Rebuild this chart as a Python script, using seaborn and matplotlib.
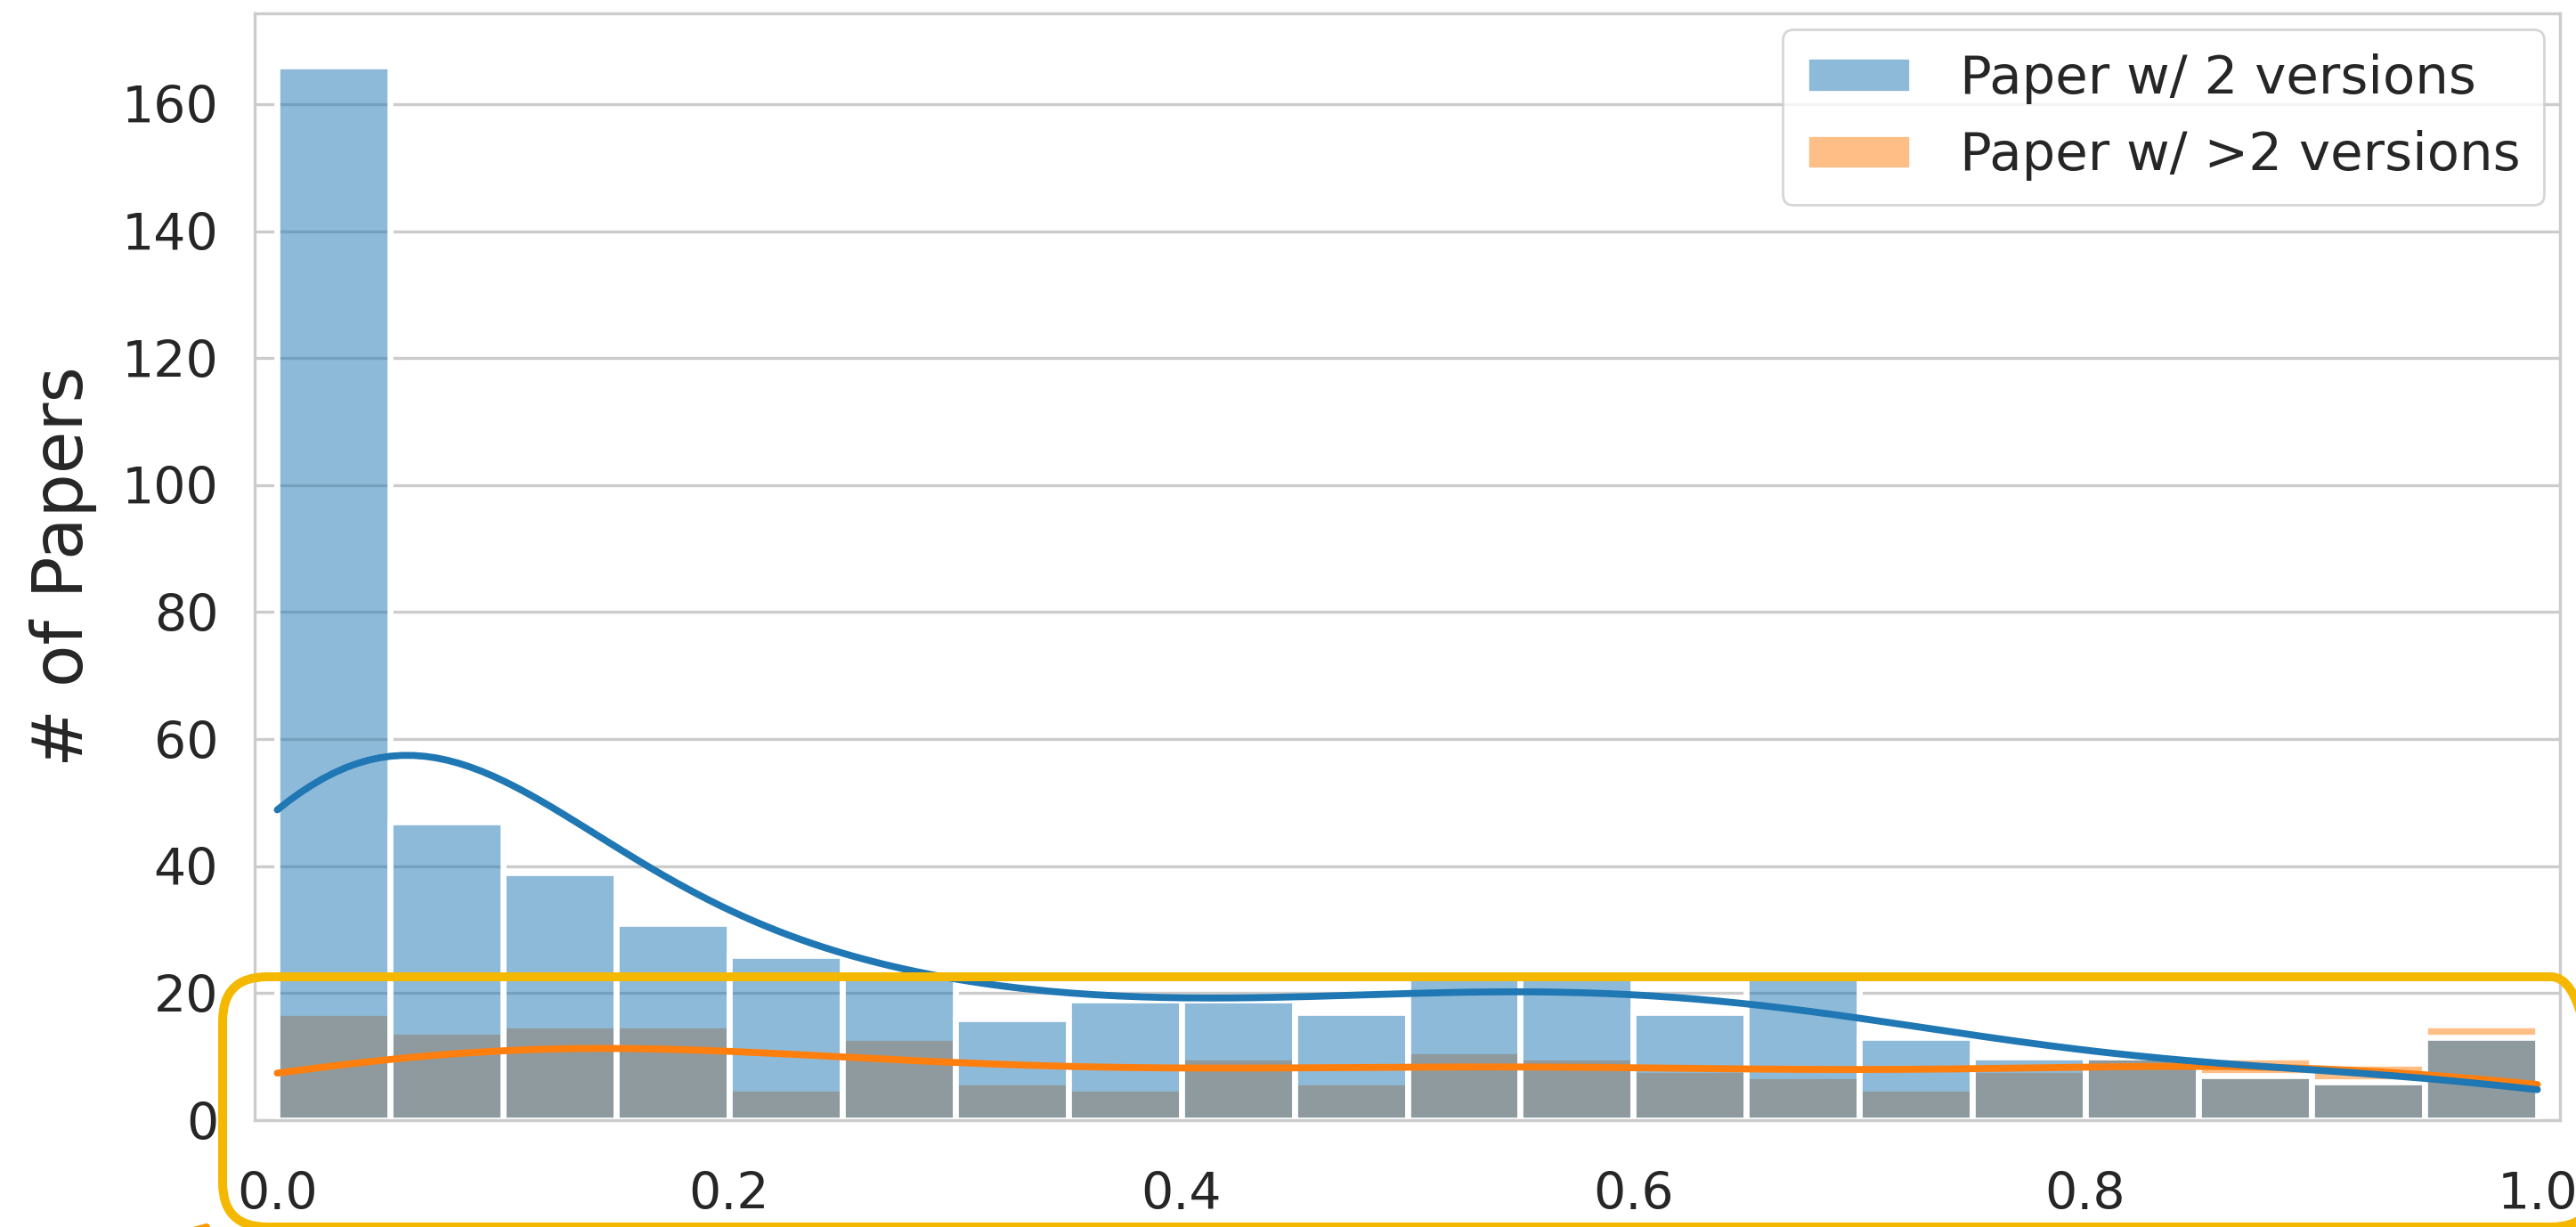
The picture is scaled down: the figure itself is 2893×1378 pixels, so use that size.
import matplotlib
matplotlib.use("Agg")
import matplotlib.pyplot as plt
from matplotlib.patches import FancyBboxPatch
from matplotlib.transforms import IdentityTransform
from matplotlib.ticker import MultipleLocator
import seaborn as sns

# histogram bins (20 bins over 0..1), counts
bin_centers = [0.025, 0.075, 0.125, 0.175, 0.225, 0.275, 0.325, 0.375, 0.425, 0.475,
               0.525, 0.575, 0.625, 0.675, 0.725, 0.775, 0.825, 0.875, 0.925, 0.975]
two_versions = [166, 47, 39, 31, 26, 23, 16, 19, 19, 17, 23, 23, 17, 23, 13, 10, 10, 7, 6, 13]
more_versions = [17, 14, 15, 15, 5, 13, 6, 5, 10, 6, 11, 10, 8, 7, 5, 8, 10, 10, 9, 15]
labels = ["Paper w/ 2 versions", "Paper w/ >2 versions"]
colors = ["tab:blue", "tab:orange"]

sns.set_theme(style="whitegrid")
plt.rcParams["axes.edgecolor"] = ".8"
plt.rcParams["axes.linewidth"] = 1.2
plt.rcParams["grid.linewidth"] = 1.2
plt.rcParams["grid.color"] = ".8"

W, H, DPI = 2893, 1378, 200
fig, ax = plt.subplots(figsize=(W / DPI, H / DPI), dpi=DPI)
fig.subplots_adjust(left=286 / W, right=2875 / W, bottom=(H - 1258) / H, top=(H - 15) / H)


def draw_group(counts, color, label, n, z):
    # scott factor of the raw sample size, since only binned counts are known
    sns.histplot(x=bin_centers, weights=counts, bins=20, binrange=(0, 1),
                 kde=True, kde_kws=dict(bw_method=n ** -0.2, cut=3, clip=(0, 1)),
                 line_kws=dict(linewidth=2.8, zorder=z), color=color, alpha=0.5,
                 edgecolor="white", linewidth=2.4, label=label, ax=ax)


# orange layer first so the blue layer sits on top (as seaborn's hue layering does)
draw_group(more_versions, colors[1], labels[1], sum(more_versions), 3)
draw_group(two_versions, colors[0], labels[0], sum(two_versions), 3.5)

ax.set_xlim(-0.01, 1.01)
ax.yaxis.set_major_locator(MultipleLocator(20))
ax.xaxis.grid(False)
ax.set_xlabel("")
ax.set_ylabel("# of Papers", fontsize=28, labelpad=10)
ax.tick_params(axis="x", labelsize=20.5, pad=14.7)
ax.tick_params(axis="y", labelsize=20.5, pad=8.7)

handles = [ax.containers[1], ax.containers[0]]
ax.legend(handles, labels, loc="upper right", fontsize=21.4, borderaxespad=0.3,
          borderpad=0.45, labelspacing=0.5, handletextpad=0.9, frameon=True)

# highlight box drawn over the figure (pixel coordinates)
box = FancyBboxPatch((250, H - 1378), 2915 - 250, 1378 - 1097,
                     boxstyle="round,pad=0,rounding_size=50",
                     transform=IdentityTransform(), fill=False,
                     edgecolor="#F5B800", linewidth=3.6, zorder=10)
fig.add_artist(box)

ax.annotate("", xy=(250, 10), xycoords="figure pixels",
            xytext=(40, -110), textcoords="figure pixels",
            arrowprops=dict(arrowstyle="-|>,head_length=1.6,head_width=0.45",
                            color="#FF9900", lw=3, mutation_scale=20),
            annotation_clip=False)

fig.savefig("out.png", dpi=DPI)
